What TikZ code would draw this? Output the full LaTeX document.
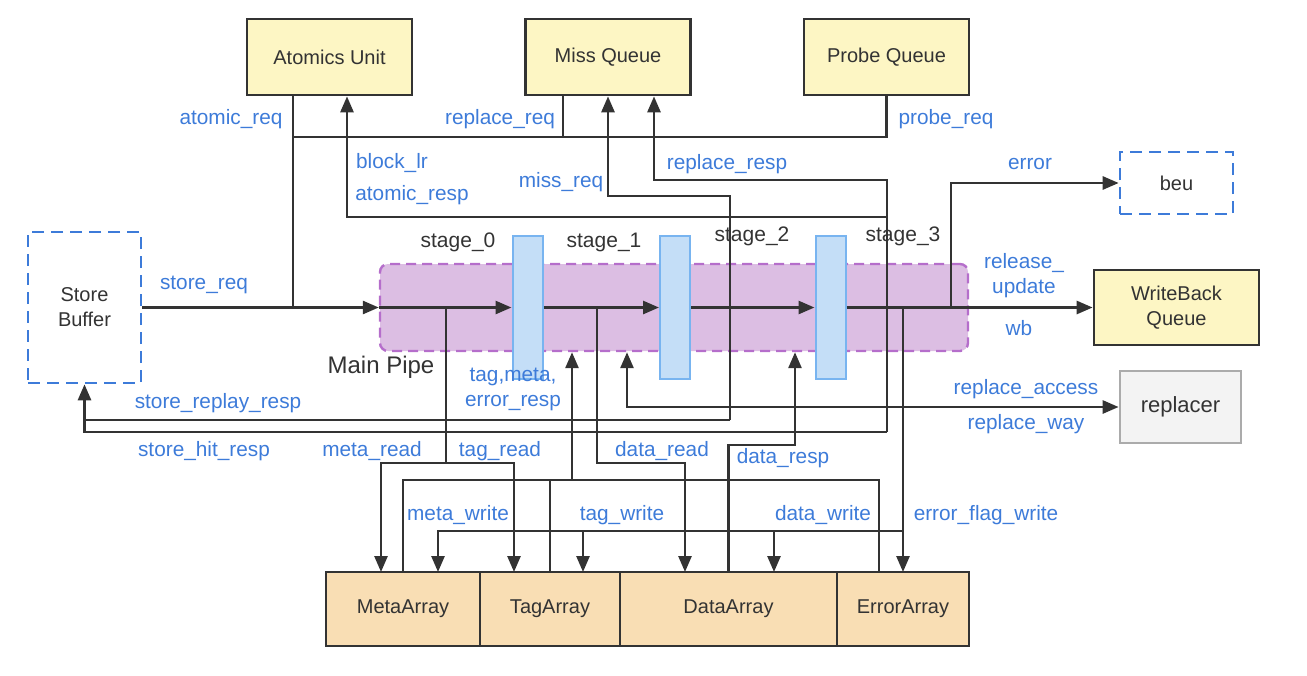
\documentclass[tikz,border=0pt]{standalone}
\usepackage{fontspec}
\setmainfont{Liberation Sans}
\usetikzlibrary{arrows.meta,positioning}

\definecolor{sigblue}{HTML}{3D7BD9}
\definecolor{wirecol}{HTML}{333333}
\definecolor{unitfill}{HTML}{FDF6C4}
\definecolor{arrfill}{HTML}{F9DEB4}
\definecolor{pipefill}{HTML}{DCBEE3}
\definecolor{pipeline}{HTML}{B56ECB}
\definecolor{barfill}{HTML}{C4DEF7}
\definecolor{barline}{HTML}{78B4F0}
\definecolor{replfill}{HTML}{F3F3F3}
\definecolor{replline}{HTML}{ABABAB}

\tikzset{
  >={Triangle[length=8pt,width=6.5pt]},
  wire/.style={draw=wirecol, line width=1.35pt},
  lbl/.style={text=sigblue, font=\fontsize{10.4}{12.5}\selectfont, inner sep=0pt, align=center},
  stagelbl/.style={text=wirecol, font=\fontsize{10.5}{12.5}\selectfont, inner sep=0pt},
  unit/.style={draw=wirecol, line width=1.35pt, fill=unitfill, text=wirecol,
    font=\fontsize{10}{12.5}\selectfont, align=center, minimum width=82.5pt, minimum height=38pt},
  extunit/.style={draw=sigblue, line width=1.3pt, dash pattern=on 6pt off 3.5pt, text=wirecol,
    font=\fontsize{10}{12.5}\selectfont, align=center},
  arr/.style={draw=wirecol, line width=1.35pt, fill=arrfill, text=wirecol, outer sep=0pt,
    font=\fontsize{10}{12.5}\selectfont, minimum height=37pt},
  stagebar/.style={draw=barline, line width=1pt, fill=barfill, minimum width=15pt, minimum height=71.5pt, inner sep=0pt},
}

\begin{document}
\begin{tikzpicture}[x=0.5pt, y=-0.5pt]
  \useasboundingbox (0,0) rectangle (1307,675);

  % Define nodes
  \node[draw=pipeline, line width=1.2pt, dash pattern=on 5pt off 3pt, fill=pipefill, rounded corners=4pt,
        minimum width=294pt, minimum height=43.5pt, inner sep=0pt] (pipe) at (674,307.5) {};
  \node[stagebar] (bar0) at (527.5,307.5) {};
  \node[stagebar] (bar1) at (675,307.5) {};
  \node[stagebar] (bar2) at (830.5,307.5) {};

  \node[unit] (au) at (329.5,57) {Atomics Unit};
  \node[unit] (mq) at (608,57) {Miss Queue};
  \node[unit] (pq) at (886.5,57) {Probe Queue};
  \node[unit, minimum height=37.5pt] (wbq) at (1176.5,307.5) {WriteBack\\Queue};
  \node[extunit, minimum width=56.5pt, minimum height=31pt] (beu) at (1176.5,183) {beu};
  \node[extunit, minimum width=56.5pt, minimum height=75.5pt] (sb) at (84.5,307.5) {Store\\Buffer};
  \node[draw=replline, line width=1.35pt, fill=replfill, text=wirecol, font=\fontsize{11}{13}\selectfont,
        minimum width=60.5pt, minimum height=36pt] (repl) at (1180.5,407) {replacer};

  \node[arr, minimum width=77pt] (meta) at (403,609) {MetaArray};
  \node[arr, minimum width=70pt, right=0pt of meta] (tag) {TagArray};
  \node[arr, minimum width=108.5pt, right=0pt of tag] (data) {DataArray};
  \node[arr, minimum width=66pt, right=0pt of data] (error) {ErrorArray};

  % Junctions
  \coordinate (reqjoin) at (293,307.5);
  \coordinate (reqbus) at (293,137);
  \coordinate (rreqbend) at (563,137);
  \coordinate (respbend) at (887,180);
  \coordinate (atomicjoin) at (887,217);
  \coordinate (hitbend) at (887,432);
  \coordinate (missbend) at (730,196);
  \coordinate (replaybend) at (730,420);
  \coordinate (errjoin) at (951,307.5);
  \coordinate (rdtap) at (446,307.5);
  \coordinate (rdsplit) at (446,463);
  \coordinate (drtap) at (597,307.5);
  \coordinate (drbend) at (597,463);
  \coordinate (wrtap) at (903,307.5);
  \coordinate (wrbus) at (903,531);
  \coordinate (rsbus) at (572,480);
  \coordinate (rsright) at (879,480);
  \coordinate (drespup) at (795,445);

  % Connect the nodes
  \draw[wire,->] (sb.east) -- (pipe.west);
  \draw[wire,->] (pipe.west) -- (bar0.west);
  \draw[wire,->] (bar0.east) -- (bar1.west);
  \draw[wire,->] (bar1.east) -- (bar2.west);
  \draw[wire,->] (bar2.east) -- (wbq.west);
  \draw[wire,->] (errjoin) |- (beu.west);

  \draw[wire] ([xshift=-18.25pt]au.south) -- (reqjoin);
  \draw[wire] (pq.south) |- (reqbus);
  \draw[wire] ([xshift=-22.5pt]mq.south) -- (rreqbend);
  \draw[wire,->] (hitbend) -- (respbend) -| ([xshift=23pt]mq.south);
  \draw[wire,->] (atomicjoin) -| ([xshift=8.75pt]au.south);
  \draw[wire,->] (replaybend) -- (missbend) -| (mq.south);
  \draw[wire,->] (hitbend) -| (sb.south);
  \draw[wire] (replaybend) -- (replaybend -| sb.south);

  \draw[wire,->] (rdtap) -- (rdsplit) -| ([xshift=-11pt]meta.north);
  \draw[wire,->] (rdsplit) -| ([xshift=-18pt]tag.north);
  \draw[wire,->] (drtap) -- (drbend) -| ([xshift=-21.75pt]data.north);
  \draw[wire,->] (wrtap) -- (error.north);
  \draw[wire,->] (wrbus) -| ([xshift=17.5pt]meta.north);
  \draw[wire,->] (wrbus) -| ([xshift=16.5pt]tag.north);
  \draw[wire,->] (wrbus) -| ([xshift=22.75pt]data.north);

  \draw[wire] (meta.north) |- (rsright) -- ([xshift=-12pt]error.north);
  \draw[wire] (tag.north) -- (tag.north |- rsbus);
  \draw[wire,->] (rsbus) -- ([xshift=-51pt]pipe.south);
  \draw[wire,->] (data.north) |- (drespup) -- ([xshift=60.5pt]pipe.south);
  \draw[wire,<->] ([xshift=-23.5pt]pipe.south) |- (repl.west);

  % Labels
  \node[stagelbl] (st0) at (458,242) {stage\_0};
  \node[stagelbl] (st1) at (604,242) {stage\_1};
  \node[stagelbl] (st2) at (752,236) {stage\_2};
  \node[stagelbl] (st3) at (903,236) {stage\_3};
  \node[text=wirecol, font=\fontsize{12}{14}\selectfont, inner sep=0pt] (pipename) at (381,367) {Main Pipe};

  \node[lbl] (lareq) at (231,119) {atomic\_req};
  \node[lbl] (lrreq) at (500,119) {replace\_req};
  \node[lbl] (lpreq) at (946,119) {probe\_req};
  \node[lbl] (lblock) at (392,163) {block\_lr};
  \node[lbl] (laresp) at (412,195) {atomic\_resp};
  \node[lbl] (lmreq) at (561,182) {miss\_req};
  \node[lbl] (lrresp) at (727,164) {replace\_resp};
  \node[lbl] (lerr) at (1030,164) {error};
  \node[lbl] (lrel) at (1024,276) {release\_\\update};
  \node[lbl] (lwb) at (1019,328) {wb};
  \node[lbl] (lsreq) at (204,285) {store\_req};
  \node[lbl] (lreplay) at (218,403) {store\_replay\_resp};
  \node[lbl] (lhit) at (204,451) {store\_hit\_resp};
  \node[lbl] (lresp) at (513,389) {tag,meta,\\error\_resp};
  \node[lbl] (lracc) at (1026,389) {replace\_access};
  \node[lbl] (lrway) at (1026,424) {replace\_way};
  \node[lbl] (lmrd) at (372,451) {meta\_read};
  \node[lbl] (ltrd) at (500,451) {tag\_read};
  \node[lbl] (ldrd) at (662,451) {data\_read};
  \node[lbl] (ldresp) at (783,458) {data\_resp};
  \node[lbl] (lmwr) at (458,515) {meta\_write};
  \node[lbl] (ltwr) at (622,515) {tag\_write};
  \node[lbl] (ldwr) at (823,515) {data\_write};
  \node[lbl] (lewr) at (986,515) {error\_flag\_write};

\end{tikzpicture}
\end{document}
